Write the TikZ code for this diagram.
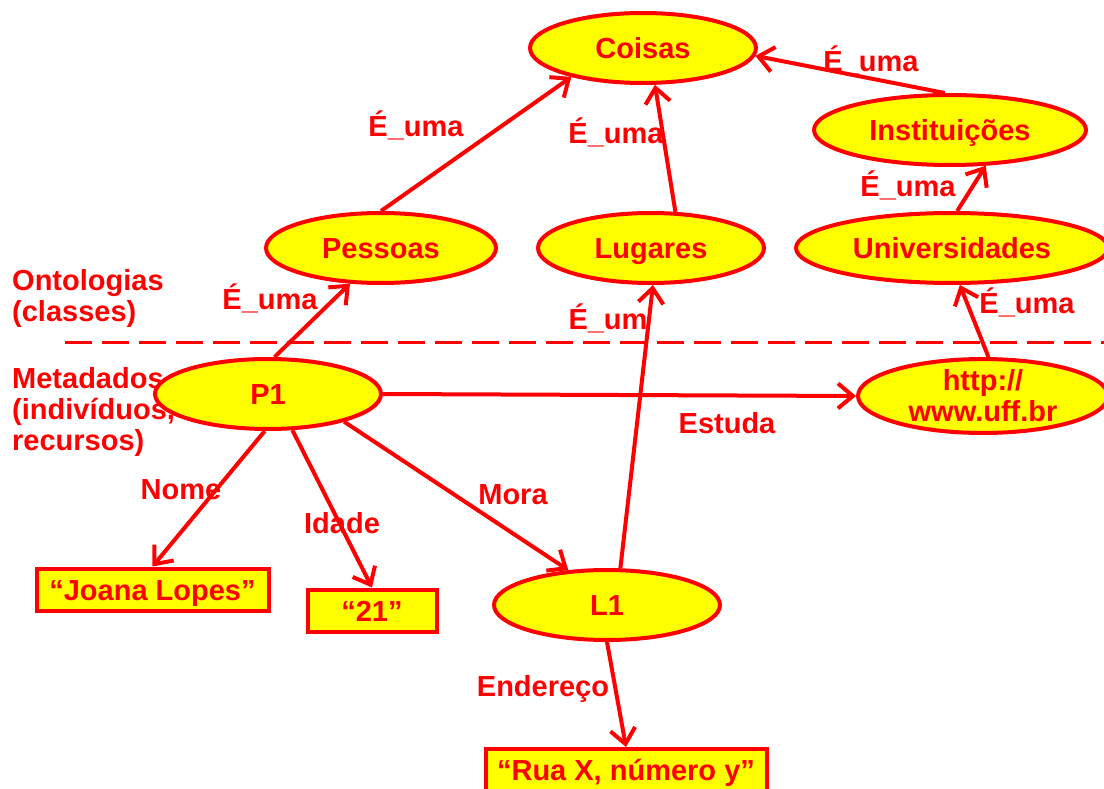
\documentclass[tikz,border=0pt]{standalone}
\usepackage{fontspec}
\setmainfont{Liberation Sans}
\usetikzlibrary{shapes.geometric,arrows.meta}
\definecolor{myred}{RGB}{255,0,0}
\definecolor{myyellow}{RGB}{255,255,0}
\tikzset{%
  myfont/.style={font=\bfseries\fontsize{29}{31}\selectfont},
  myclass/.style={ellipse,draw=myred,fill=myyellow,line width=4pt,inner sep=0pt,
    minimum width=226pt,minimum height=70pt,text=myred,myfont,align=center},
  myone/.style={text height=21pt,text depth=0pt},
  myliteral/.style={rectangle,draw=myred,fill=myyellow,line width=4pt,inner sep=0pt,
    minimum height=42pt,text=myred,myfont,myone},
  myrel/.style={draw=myred,line width=4pt,-{Straight Barb[length=15pt,width=25pt]}},
  mylabel/.style={text=myred,myfont,inner sep=0pt},
}

\begin{document}
\begin{tikzpicture}[x=1pt,y=-1pt]
    \clip (0,0) rectangle (1104,789);
    \useasboundingbox (0,0) rectangle (1104,789);
    % left side texts and the dashed split
    \node[mylabel,anchor=north west,align=left] (onto) at (12,269) {Ontologias\\(classes)};
    \node[mylabel,anchor=north west,align=left] (meta) at (12,367) {Metadados\\(indivíduos,\\recursos)};
    \coordinate (dashl) at (65,342);
    \coordinate (dashr) at (1104,342);
    \draw[myred,line width=3pt,dash pattern=on 27pt off 10pt] (dashl) -- (dashr);
    % classes
    \node[myclass,myone] (coisas) at (643,48) {Coisas};
    \node[myclass,myone,minimum width=272pt] (inst) at (950,130) {Instituições};
    \node[myclass,myone,minimum width=230pt] (pess) at (381,248) {Pessoas};
    \node[myclass,myone] (lug) at (651,248) {Lugares};
    \node[myclass,myone,minimum width=312pt] (univ) at (952,248) {Universidades};
    % individuals
    \node[myclass,myone] (p1) at (268,394) {P1};
    \node[myclass,minimum width=250pt] (uff) at (983,396) {http://\\www.uff.br};
    \node[myclass,myone] (l1) at (607,605) {L1};
    \node[myliteral,minimum width=232pt] (nome) at (152.5,589.5) {“Joana Lopes”};
    \node[myliteral,minimum width=129pt] (idade) at (372,610.5) {“21”};
    \node[myliteral,minimum width=281pt] (rua) at (626,770) {“Rua X, número y”};
    % relations
    \draw[myrel] (pess.north) -- (coisas.202);
    \draw[myrel] (lug.56) -- (coisas.288);
    \draw[myrel] (inst.98) -- (coisas.356);
    \draw[myrel] (univ.82) -- (inst.315);
    \draw[myrel] (p1.80) -- (pess.229);
    \draw[myrel] (uff.82) -- (univ.282);
    \draw[myrel] (l1.70) -- (lug.273);
    \draw[myrel] (p1.east) -- (uff.west);
    \draw[myrel] (p1.265) -- (nome.north);
    \draw[myrel] (p1.304) -- (idade.north);
    \draw[myrel] (p1.340) -- (l1.138);
    \draw[myrel] (l1.south) -- (rua.north);
    % relation names
    \node[mylabel] (lbpc) at (416,125) {É\_uma};
    \node[mylabel] (lblc) at (616,132) {É\_uma};
    \node[mylabel] (lbic) at (871,60) {É\_uma};
    \node[mylabel] (lbui) at (908,185) {É\_uma};
    \node[mylabel] (lbpp) at (270,298) {É\_uma};
    \node[mylabel] (lbhu) at (1027,302) {É\_uma};
    \node[mylabel] (lbll) at (608,318) {É\_um};
    \node[mylabel] (lbest) at (727,423) {Estuda};
    \node[mylabel] (lbnome) at (181,490) {Nome};
    \node[mylabel] (lbidade) at (342,523) {Idade};
    \node[mylabel] (lbmora) at (513,495) {Mora};
    \node[mylabel] (lbend) at (543,689) {Endereço};
\end{tikzpicture}
\end{document}
